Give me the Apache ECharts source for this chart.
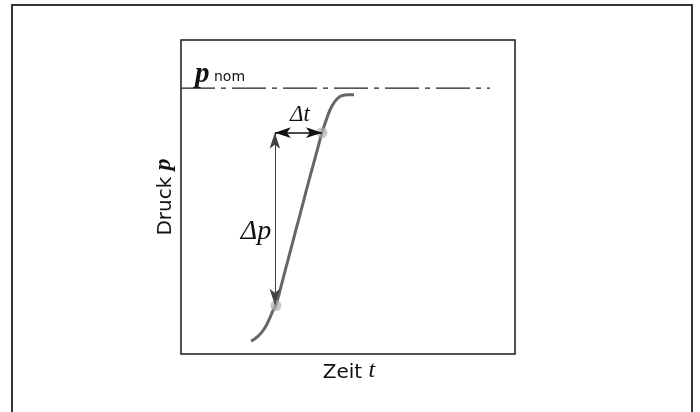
<!DOCTYPE html>
<html>
<head>
<meta charset="utf-8">
<script src="https://cdn.jsdelivr.net/npm/echarts@6/dist/echarts.min.js"></script>
<style>
  html, body { margin: 0; padding: 0; background: #fff; }
  #chart { width: 700px; height: 412px; }
</style>
</head>
<body>
<div id="chart"></div>
<script>
// Druckanstieg: Zeit (x) gegen Druck (y), beide 0..100 ohne Einheit
var curveX = [21.0, 23.1, 24.9, 26.3, 27.5, 28.4, 29.9, 31.4, 32.9, 34.4, 35.9, 37.4, 38.9, 40.4, 42.2, 43.7, 45.2, 46.7, 48.2, 50.0, 51.8];
var curveY = [4.1, 5.7, 8.0, 10.8, 13.7, 15.6, 21.3, 27.4, 33.4, 39.5, 45.5, 51.6, 57.6, 63.4, 70.4, 75.2, 79.0, 81.2, 82.3, 82.6, 82.6];

// Messpunkte auf der Kurve
var markX = [28.4, 42.2];
var markY = [15.4, 70.5];

// Nenndruck-Linie
var nomY = 84.7;
var nomX = [0, 92.5];

// Bemaßung Δp / Δt
var dimX = 28.1;

var serif = '"Liberation Serif", "DejaVu Serif", serif';
var sans = '"DejaVu Sans", "Noto Sans", sans-serif';

var chart = echarts.init(document.getElementById('chart'));

chart.setOption({
  animation: false,
  backgroundColor: '#fff',
  grid: {
    left: 181, top: 40, width: 334, height: 314,
    show: true, borderColor: '#1a1a1a', borderWidth: 1.5, backgroundColor: 'transparent'
  },
  xAxis: {
    type: 'value', min: 0, max: 100,
    axisLine: { show: false }, axisTick: { show: false },
    axisLabel: { show: false }, splitLine: { show: false }
  },
  yAxis: {
    type: 'value', min: 0, max: 100,
    axisLine: { show: false }, axisTick: { show: false },
    axisLabel: { show: false }, splitLine: { show: false }
  },
  series: [
    {
      // p_nom Strich-Punkt-Linie
      type: 'line',
      data: nomX.map(function (x) { return [x, nomY]; }),
      symbol: 'none',
      lineStyle: { color: '#222', width: 1.3, type: [34, 6, 5, 6] },
      silent: true
    },
    {
      type: 'line',
      data: curveX.map(function (x, i) { return [x, curveY[i]]; }),
      smooth: 0.5,
      symbol: 'none',
      lineStyle: { color: '#666', width: 3 },
      silent: true,
      markLine: {
        silent: true,
        symbol: ['arrow', 'arrow'],
        symbolSize: [8, 16],
        label: { show: false },
        data: [
          [
            { coord: [dimX, markY[1]], lineStyle: { color: '#444', width: 1, type: 'solid' } },
            { coord: [dimX, markY[0] + 0.3] }
          ],
          [
            { coord: [dimX, markY[1]], lineStyle: { color: '#111', width: 1.5, type: 'solid' } },
            { coord: [markX[1], markY[1]] }
          ]
        ]
      }
    },
    {
      type: 'scatter',
      data: markX.map(function (x, i) { return [x, markY[i]]; }),
      symbolSize: 11,
      itemStyle: { color: 'rgba(175,175,175,0.85)' },
      silent: true,
      z: 3
    }
  ],
  graphic: [
    {
      type: 'rect',
      shape: { x: 12, y: 5, width: 680, height: 420 },
      style: { fill: 'none', stroke: '#333', lineWidth: 2 },
      silent: true
    },
    {
      type: 'text', x: 195, y: 89,
      style: { text: 'p', fontFamily: serif, fontStyle: 'italic', fontWeight: 'bold', fontSize: 29, fill: '#111', verticalAlign: 'bottom' }
    },
    {
      type: 'text', x: 214, y: 84,
      style: { text: 'nom', fontFamily: sans, fontSize: 14, fill: '#111', verticalAlign: 'bottom' }
    },
    {
      type: 'text', x: 300, y: 115,
      style: { text: 'Δt', fontFamily: serif, fontStyle: 'italic', fontSize: 23, fill: '#111', align: 'center', verticalAlign: 'middle' }
    },
    {
      type: 'text', x: 256, y: 232,
      style: { text: 'Δp', fontFamily: serif, fontStyle: 'italic', fontSize: 28, fill: '#111', align: 'center', verticalAlign: 'middle' }
    },
    {
      type: 'text', x: 349, y: 370,
      style: {
        text: '{a|Zeit }{b|t}', align: 'center', verticalAlign: 'middle',
        rich: {
          a: { fontFamily: sans, fontSize: 20, lineHeight: 26, verticalAlign: 'bottom', fill: '#111' },
          b: { fontFamily: serif, fontStyle: 'italic', fontSize: 24, lineHeight: 26, verticalAlign: 'bottom', fill: '#111' }
        }
      }
    },
    {
      type: 'text', x: 163, y: 197, rotation: Math.PI / 2,
      style: {
        text: '{a|Druck }{b|p}', align: 'center', verticalAlign: 'middle',
        rich: {
          a: { fontFamily: sans, fontSize: 20, lineHeight: 26, verticalAlign: 'bottom', fill: '#111' },
          b: { fontFamily: serif, fontStyle: 'italic', fontWeight: 'bold', fontSize: 24, lineHeight: 26, verticalAlign: 'bottom', fill: '#111' }
        }
      }
    }
  ]
});
</script>
</body>
</html>
